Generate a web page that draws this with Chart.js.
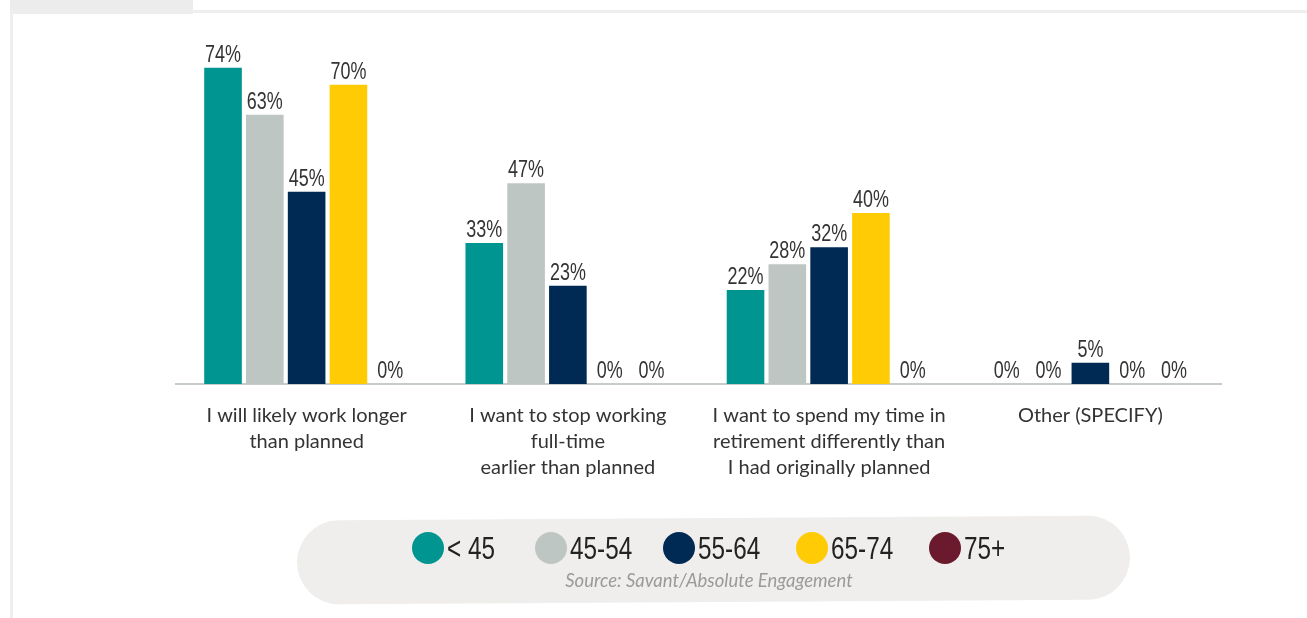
<!DOCTYPE html>
<html>
<head>
<meta charset="utf-8">
<script src="https://cdn.jsdelivr.net/npm/chart.js@4"></script>
<style>
  html, body { margin: 0; padding: 0; background: #fff; }
  body { width: 1307px; height: 618px; position: relative; overflow: hidden; }
  .frame { position: absolute; left: 10px; top: 10px; width: 1400px; height: 700px; border-left: 3px solid #eeeeee; border-top: 3px solid #eeeeee; }
  .tab { position: absolute; left: 10px; top: 0; width: 183px; height: 14px; background: #ebeceb; }
  #chartCanvas { position: absolute; left: 0; top: 0; }
  .pill { position: absolute; left: 297px; top: 518px; width: 833px; height: 84px; border-radius: 42px; background: #efeeec; transform: rotate(-0.35deg); }
  .legend-item { position: absolute; top: 532px; height: 32px; display: flex; align-items: center; white-space: nowrap; }
  .legend-dot { width: 32px; height: 32px; border-radius: 50%; flex: none; }
  .legend-text { display: inline-block; margin-left: 3px; font-family: "Liberation Sans", Arial, sans-serif; font-size: 32px; line-height: 32px; color: #222; transform: scaleX(0.76); transform-origin: left center; }
  .source { position: absolute; left: 0; width: 1418px; top: 569px; text-align: center; font-family: Lato, sans-serif; font-style: italic; font-size: 18.5px; color: #9a9a9a; }
</style>
</head>
<body>
<div class="tab"></div>
<div class="frame"></div>
<canvas id="chartCanvas" width="1307" height="618"></canvas>
<div class="pill"></div>
<div id="legend"></div>
<div class="source">Source: Savant/Absolute Engagement</div>
<script>
const categories = [
    ['I will likely work longer', 'than planned'],
    ['I want to stop working', 'full-time', 'earlier than planned'],
    ['I want to spend my time in', 'retirement differently than', 'I had originally planned'],
    ['Other (SPECIFY)']
];
const ageGroups = ['< 45', '45-54', '55-64', '65-74', '75+'];
const groupColors = ['#009590', '#bdc6c3', '#002a54', '#ffcb05', '#6b1a2e'];
const under45 = [74, 33, 22, 0];
const age45to54 = [63, 47, 28, 0];
const age55to64 = [45, 23, 32, 5];
const age65to74 = [70, 0, 40, 0];
const age75plus = [0, 0, 0, 0];
const seriesValues = [under45, age45to54, age55to64, age65to74, age75plus];

// legend row in the grey pill, one slot per age group
const legendLeft = [412, 535, 663, 796, 929];
const legendEl = document.getElementById('legend');
ageGroups.forEach((name, i) => {
    const item = document.createElement('div');
    item.className = 'legend-item';
    item.style.left = legendLeft[i] + 'px';
    item.innerHTML = `<span class="legend-dot" style="background:${groupColors[i]}"></span><span class="legend-text">${name}</span>`;
    legendEl.appendChild(item);
});

// percent labels above each bar, narrowed to a condensed look
const valueLabels = {
    id: 'valueLabels',
    afterDatasetsDraw(chart) {
        const ctx = chart.ctx;
        ctx.save();
        ctx.font = '23px "Liberation Sans", Arial, sans-serif';
        ctx.fillStyle = '#333';
        ctx.textAlign = 'center';
        ctx.textBaseline = 'alphabetic';
        chart.data.datasets.forEach((ds, di) => {
            chart.getDatasetMeta(di).data.forEach((bar, i) => {
                ctx.save();
                ctx.translate(bar.x, bar.y - 6);
                ctx.scale(0.78, 1);
                ctx.fillText(ds.data[i] + '%', 0, 0);
                ctx.restore();
            });
        });
        ctx.restore();
    }
};

const ctx = document.getElementById('chartCanvas').getContext('2d');
new Chart(ctx, {
    type: 'bar',
    data: {
        labels: categories,
        datasets: ageGroups.map((name, i) => ({
            label: name,
            data: seriesValues[i],
            backgroundColor: groupColors[i],
            categoryPercentage: 0.8,
            barPercentage: 0.9
        }))
    },
    options: {
        responsive: false,
        animation: false,
        devicePixelRatio: 1,
        layout: { padding: { left: 176, right: 86, top: 25, bottom: 0 } },
        plugins: { legend: { display: false }, tooltip: { enabled: false } },
        scales: {
            x: {
                grid: { display: false, drawTicks: false },
                border: { display: true, color: '#c5ccc9', width: 2 },
                ticks: {
                    padding: 19,
                    maxRotation: 0,
                    autoSkip: false,
                    color: '#333',
                    font: { family: 'Lato', size: 20, lineHeight: 1.3 }
                },
                afterFit(scale) { scale.height = 234; }
            },
            y: {
                display: false,
                min: 0,
                max: 84
            }
        }
    },
    plugins: [valueLabels]
});
</script>
</body>
</html>
